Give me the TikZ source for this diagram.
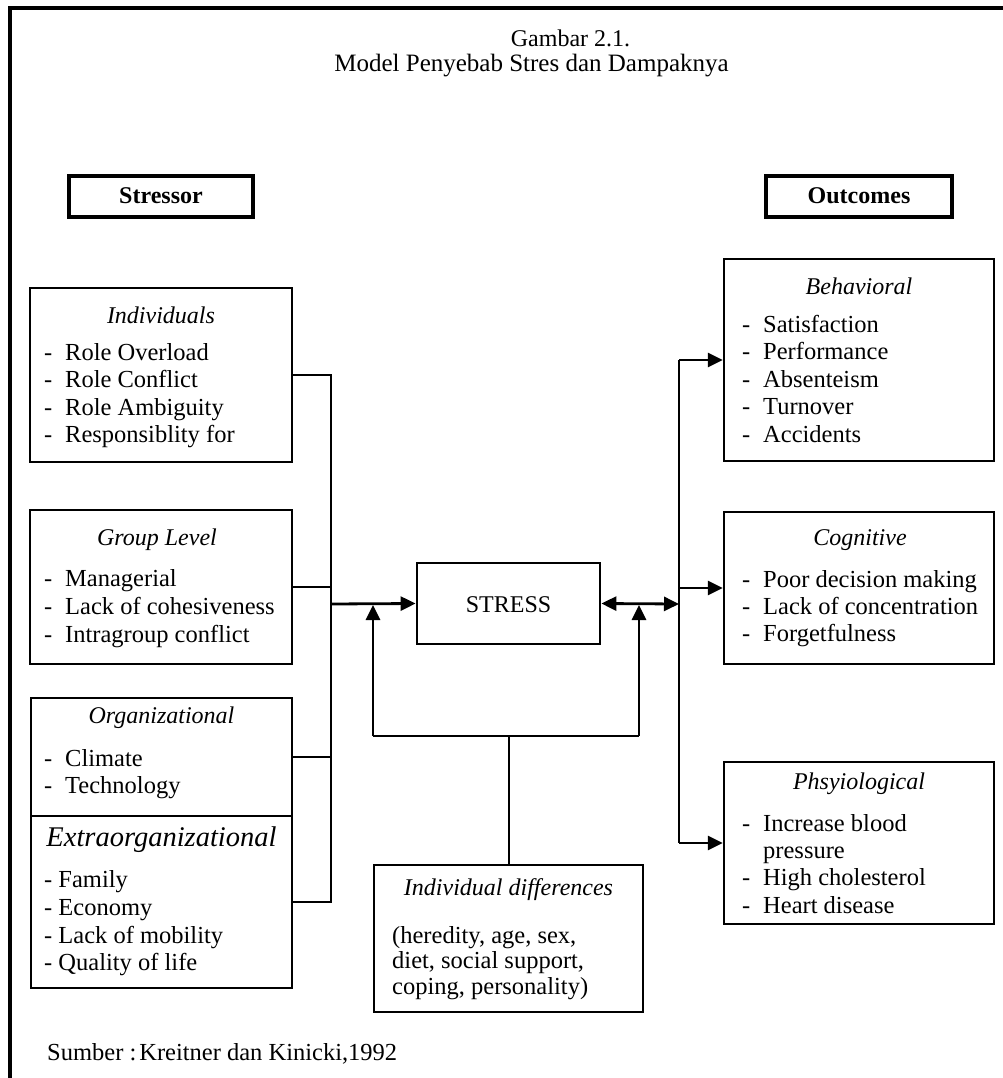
\documentclass[tikz,border=0pt]{standalone}
\usepackage{fontspec}
\setmainfont{Liberation Serif}
\usetikzlibrary{arrows.meta}
\newcommand{\fsz}{\fontsize{24.5pt}{27pt}\selectfont}
\newcommand{\fszt}{\fontsize{24pt}{27pt}\selectfont}
\newcommand{\fszh}{\fontsize{25pt}{27pt}\selectfont}
\newcommand{\fszx}{\fontsize{28.5pt}{30pt}\selectfont}
\newcommand{\dsh}{\makebox[21pt][l]{-}}
\begin{document}
\begin{tikzpicture}[x=1pt,y=-1pt,
  box/.style={draw, line width=2.4pt, inner sep=0pt},
  hbox/.style={draw, line width=3.2pt, inner sep=0pt},
  txt/.style={inner sep=0pt, anchor=base west, font=\fsz},
  ttl/.style={inner sep=0pt, anchor=base, font=\fszt\itshape},
  conn/.style={line width=2pt},
  arr/.style={line width=2.8pt, -{Triangle[length=15pt,width=14pt]}},
  darr/.style={line width=2.8pt, {Triangle[length=15pt,width=14pt]}-{Triangle[length=15pt,width=14pt]}}
]
\useasboundingbox (0,0) rectangle (1003,1078);
\clip (0,0) rectangle (1003,1078);
% frame
\coordinate (fTR) at (1010,8);
\coordinate (fTL) at (10,8);
\coordinate (fBL) at (10,1090);
\draw[line width=3.2pt] (fTR) -- (fTL) -- (fBL);

% title
\node[inner sep=0pt, anchor=base, font=\fszt] (t1) at (570.5,47) {Gambar 2.1.};
\node[inner sep=0pt, anchor=base, font=\fszh] (t2) at (531.5,72) {Model Penyebab Stres dan Dampaknya};

% header boxes
\node[hbox, minimum width=184pt, minimum height=41pt] (stressor) at (161,196.5) {};
\node[inner sep=0pt, anchor=base, font=\fszt\bfseries] (stressorT) at (161,204) {Stressor};
\node[hbox, minimum width=186pt, minimum height=41pt] (outcomes) at (859,196.5) {};
\node[inner sep=0pt, anchor=base, font=\fszt\bfseries] (outcomesT) at (859,204) {Outcomes};

% Individuals
\node[box, minimum width=262pt, minimum height=174pt] (indiv) at (161,375) {};
\node[ttl] (indivT) at (161,323) {Individuals};
\node[txt] (i1) at (44,360) {\dsh Role Overload};
\node[txt] (i2) at (44,387.6) {\dsh Role Conflict};
\node[txt] (i3) at (44,415.2) {\dsh Role Ambiguity};
\node[txt] (i4) at (44,442.8) {\dsh Responsiblity for};

% Group level
\node[box, minimum width=262pt, minimum height=154pt] (group) at (161,587) {};
\node[ttl] (groupT) at (157,545) {Group Level};
\node[txt] (g1) at (44,586) {\dsh Managerial};
\node[txt] (g2) at (44,614) {\dsh Lack of cohesiveness};
\node[txt] (g3) at (44,642) {\dsh Intragroup conflict};

% Organizational
\node[box, minimum width=261pt, minimum height=118pt] (org) at (161.5,757) {};
\node[ttl] (orgT) at (161.5,723) {Organizational};
\node[txt] (o1) at (44,766) {\dsh Climate};
\node[txt] (o2) at (44,793) {\dsh Technology};

% Extraorganizational
\node[box, minimum width=261pt, minimum height=172pt] (ext) at (161.5,902) {};
\node[inner sep=0pt, anchor=base, font=\fszx\itshape] (extT) at (161.5,846) {Extraorganizational};
\node[txt] (e1) at (44,887) {- Family};
\node[txt] (e2) at (44,915) {- Economy};
\node[txt] (e3) at (44,943) {- Lack of mobility};
\node[txt] (e4) at (44,970) {- Quality of life};

% STRESS
\node[box, line width=2.8pt, minimum width=183pt, minimum height=81pt] (stress) at (508.5,603.5) {};
\node[inner sep=0pt, anchor=base, font=\fszt] (stressT) at (508.5,612) {STRESS};

% Behavioral
\node[box, minimum width=270pt, minimum height=202pt] (behav) at (859,360) {};
\node[ttl] (behavT) at (859,294) {Behavioral};
\node[txt] (b1) at (742,332) {\dsh Satisfaction};
\node[txt] (b2) at (742,359.5) {\dsh Performance};
\node[txt] (b3) at (742,387) {\dsh Absenteism};
\node[txt] (b4) at (742,414.5) {\dsh Turnover};
\node[txt] (b5) at (742,442) {\dsh Accidents};

% Cognitive
\node[box, minimum width=270pt, minimum height=152pt] (cogn) at (859,588) {};
\node[ttl] (cognT) at (860,545) {Cognitive};
\node[txt] (c1) at (742,587) {\dsh Poor decision making};
\node[txt] (c2) at (742,614) {\dsh Lack of concentration};
\node[txt] (c3) at (742,641) {\dsh Forgetfulness};

% Physiological
\node[box, minimum width=270pt, minimum height=162pt] (phys) at (859,843) {};
\node[ttl] (physT) at (859,789) {Phsyiological};
\node[txt] (p1) at (742,831) {\dsh Increase blood};
\node[txt] (p2) at (763,858) {pressure};
\node[txt] (p3) at (742,885.5) {\dsh High cholesterol};
\node[txt] (p4) at (742,913) {\dsh Heart disease};

% Individual differences
\node[box, minimum width=269pt, minimum height=147pt] (idiff) at (508.5,938.5) {};
\node[ttl] (idiffT) at (508.5,895) {Individual differences};
\node[txt] (d1) at (392,943) {(heredity, age, sex,};
\node[txt] (d2) at (392,968.5) {diet, social support,};
\node[txt] (d3) at (392,994) {coping, personality)};

% source
\node[txt] (src) at (47,1060) {Sumber :\hspace{3pt}Kreitner dan Kinicki,1992};

% connectors left
\coordinate (jL) at (331,604);
\coordinate (jR) at (679,604);
\draw[conn] (indiv.east) -| (jL);
\draw[conn] (ext.east) -| (jL);
\draw[conn] (group.east) -- (group.east -| jL);
\draw[conn] (org.east) -- (org.east -| jL);
\draw[arr] (jL) -- (stress.west);

% right side
\draw[darr] (stress.east) -- (jR);
\draw[conn] (behav.west -| jR) -- (phys.west -| jR);
\draw[arr] (behav.west -| jR) -- (behav.west);
\draw[arr] (cogn.west -| jR) -- (cogn.west);
\draw[arr] (phys.west -| jR) -- (phys.west);

% feedback loop from individual differences
\coordinate (lb) at (373,736);
\coordinate (rb) at (639,736);
\draw[conn] (idiff.north) -- (idiff.north |- lb);
\draw[line width=2.6pt] (lb) -- (rb);
\draw[arr, shorten >=1.5pt] (lb) -- (lb |- stress.west);
\draw[arr, shorten >=1.5pt] (rb) -- (rb |- stress.east);
\end{tikzpicture}
\end{document}
